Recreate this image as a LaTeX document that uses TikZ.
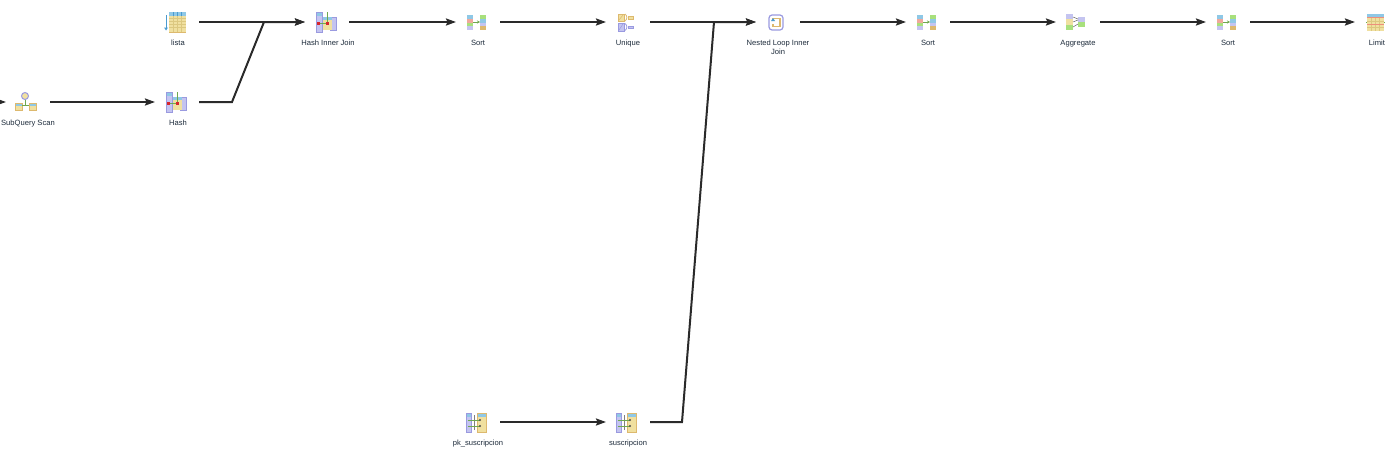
\documentclass[tikz,border=0pt]{standalone}
\usepackage{fontspec}
\setmainfont{Liberation Sans}
\usetikzlibrary{arrows.meta}
\definecolor{linkdark}{HTML}{2A2A2A}
\definecolor{labelink}{HTML}{1C2A3A}
\definecolor{headblue}{HTML}{8FC8E6}
\definecolor{bodytan}{HTML}{F0E0A0}
\definecolor{gridtan}{HTML}{DCC880}
\definecolor{edgetan}{HTML}{DDB96E}
\definecolor{colpurple}{HTML}{C4C4F0}
\definecolor{edgepurple}{HTML}{9A9AE0}
\definecolor{markgreen}{HTML}{6FA84F}
\definecolor{markred}{HTML}{D8262C}
\definecolor{limitred}{HTML}{EE8F7C}
\definecolor{arrowblue}{HTML}{4A9BD0}
\definecolor{cellgreen}{HTML}{A8E07C}
\definecolor{cellred}{HTML}{EFA89C}
\tikzset{
	iconbox/.style={minimum width=44pt,minimum height=20pt,inner sep=0pt,outer sep=0pt},
	oplabel/.style={font=\fontsize{7.6}{9}\selectfont,text=labelink,align=center,inner sep=0pt,anchor=base},
	link/.style={draw=linkdark,line width=2pt,-{Stealth[length=10pt,width=7pt,inset=1.5pt]}},
	hairline/.style={line width=.5pt},
	scanicon/.pic={
		\fill[bodytan] (-8,-10) rectangle (9,11);
		\foreach \g in {-4,-1,2,5}{\draw[gridtan,hairline] (-8,\g)--(9,\g);}
		\foreach \g in {-4,0,4}{\draw[gridtan,hairline] (\g,-10)--(\g,11);}
		\fill[headblue] (-8,-10) rectangle (9,-6);
		\foreach \g in {-4,0,4}{\draw[arrowblue,hairline] (\g,-10)--(\g,-6);}
		\draw[edgetan,line width=1pt] (-8,10.5)--(9,10.5);
		\draw[arrowblue,line width=1pt] (-11,-7)--(-11,7);
		\fill[arrowblue] (-13,5.5)--(-9,5.5)--(-11,8.5)--cycle;
	},
	hashicon/.pic={
		\fill[colpurple] (-11,-10) rectangle (-5,10);
		\fill[headblue] (-11,-10) rectangle (-5,-6);
		\draw[edgepurple,hairline] (-11,-10) rectangle (-5,10);
		\fill[colpurple] (3,-5) rectangle (9,8);
		\draw[edgepurple,hairline] (3,-5) rectangle (9,8);
		\fill[bodytan] (-4,-3) rectangle (5,8);
		\fill[headblue] (-4,-5) rectangle (5,-2);
		\draw[markgreen,line width=1pt] (0,-10)--(0,1);
		\draw[markgreen,line width=1pt] (-8,1)--(0,1);
		\fill[markred] (-10,0) rectangle (-7,2.5);
		\fill[markred] (-1.5,0) rectangle (1.5,2.5);
	},
	sorticon/.pic={
		\fill[headblue] (-11,-7) rectangle (-5,-3);
		\fill[cellred] (-11,-3) rectangle (-5,1);
		\fill[cellgreen] (-11,1) rectangle (-5,4);
		\fill[colpurple] (-11,4) rectangle (-5,8);
		\fill[cellgreen] (2,-7) rectangle (8,-3);
		\fill[headblue] (2,-3) rectangle (8,1);
		\fill[colpurple] (2,1) rectangle (8,4);
		\fill[edgetan] (2,4) rectangle (8,8);
		\draw[markgreen,line width=1pt,-{Stealth[length=3pt,width=3pt]}] (-5,0)--(2,0);
	},
	uniqueicon/.pic={
		\fill[bodytan] (-10,-8) rectangle (-4,-1);
		\draw[edgetan,hairline] (-10,-8) rectangle (-4,-1);
		\fill[colpurple] (-10,1) rectangle (-4,9);
		\draw[edgepurple,hairline] (-10,1) rectangle (-4,9);
		\draw[edgetan,hairline] (-9,-2)--(-5,-7);
		\draw[edgepurple,hairline] (-9,8)--(-5,2);
		\draw[edgetan,line width=.8pt] (-3,-8) .. controls (-.5,-6) and (-.5,-3) .. (-3,-1);
		\draw[edgepurple,line width=.8pt] (-3,1.5) .. controls (-.5,3.5) and (-.5,6.5) .. (-3,8.5);
		\fill[bodytan,draw=edgetan,hairline] (0,-5.5) rectangle (5,-3);
		\fill[colpurple,draw=edgepurple,hairline] (0,4) rectangle (5,6.5);
	},
	loopicon/.pic={
		\draw[edgepurple,line width=1.2pt,rounded corners=3pt,fill=white] (-9,-7) rectangle (5,8);
		\draw[edgetan,line width=1.2pt] (-5,-1)--(-5,-3.5)--(2,-3.5)--(2,4.5)--(-5,4.5)--(-5,2);
		\fill[arrowblue] (-7,-1)--(-3,-1)--(-5,-4)--cycle;
	},
	aggicon/.pic={
		\fill[colpurple] (-12,-8) rectangle (-5,-3);
		\fill[bodytan] (-12,-3) rectangle (-5,3);
		\fill[cellgreen] (-12,3) rectangle (-5,8);
		\fill[colpurple] (0,-5) rectangle (7,0);
		\fill[cellgreen] (0,0) rectangle (7,5);
		\draw[black!60,hairline] (-5,-5)--(0,-3) (-5,0)--(0,-2) (-5,5)--(0,2);
	},
	limiticon/.pic={
		\fill[bodytan] (-10,-8) rectangle (7,9);
		\foreach \g in {-1,2,5}{\draw[gridtan,hairline] (-10,\g)--(7,\g);}
		\foreach \g in {-6,-2,2}{\draw[gridtan,hairline] (\g,-8)--(\g,9);}
		\fill[headblue] (-10,-8) rectangle (7,-4);
		\draw[limitred,line width=1pt] (-10,-4.5)--(7,-4.5) (-10,2.5)--(7,2.5);
		\draw[markgreen,line width=1pt] (-11,0)--(-10,0) (7,0)--(8,0);
	},
	subqueryicon/.pic={
		\draw[markgreen,line width=1pt] (0,-6)--(0,3);
		\foreach \x in {-10,4}{
			\fill[bodytan] (\x,1) rectangle ++(7,7);
			\fill[headblue] (\x,1) rectangle ++(7,2.5);
			\draw[edgetan,hairline] (\x,1) rectangle ++(7,7);
		}
		\draw[markgreen,line width=1pt] (-3,3)--(4,3);
		\draw[edgepurple,line width=1pt,fill=bodytan] (0,-6) circle (3.5);
	},
	indexicon/.pic={
		\fill[colpurple] (-12,-9) rectangle (-7,10);
		\fill[headblue] (-12,-9) rectangle (-7,-5);
		\draw[edgepurple,hairline] (-12,-9) rectangle (-7,10);
		\fill[bodytan] (-1,-9) rectangle (8,10);
		\fill[headblue] (-1,-9) rectangle (8,-5);
		\draw[edgetan,hairline] (-1,-9) rectangle (8,10);
		\draw[black!50,hairline] (-4,-7)--(-4,8);
		\draw[markgreen,line width=1pt] (-10,-2)--(2,-2) (-10,4)--(2,4);
		\fill[black!70] (2,-2) circle (1.2) (2,4) circle (1.2);
	},
}
\begin{document}
\begin{tikzpicture}[x=1pt,y=-1pt]
	\useasboundingbox (0,0) rectangle (1397,461);
	\node[iconbox] (lista) at (177,22) {};
	\node[iconbox] (hashjoin) at (327,22) {};
	\node[iconbox] (sorta) at (478,22) {};
	\node[iconbox] (unique) at (628,22) {};
	\node[iconbox] (nested) at (778,22) {};
	\node[iconbox] (sortb) at (928,22) {};
	\node[iconbox] (aggregate) at (1078,22) {};
	\node[iconbox] (sortc) at (1228,22) {};
	\node[iconbox] (limit) at (1377,22) {};
	\node[iconbox] (subquery) at (28,102) {};
	\node[iconbox] (hash) at (177,102) {};
	\node[iconbox] (pksus) at (478,422) {};
	\node[iconbox] (sus) at (628,422) {};
	\coordinate (offleft) at (-20,102);
	\coordinate (hashbend) at (232,102);
	\coordinate (hashmeet) at (264,22);
	\coordinate (susbend) at (682,422);
	\coordinate (susmeet) at (714,22);
	\pic at (lista) {scanicon};
	\pic at (hashjoin) {hashicon};
	\pic at (sorta) {sorticon};
	\pic at (unique) {uniqueicon};
	\pic at (nested) {loopicon};
	\pic at (sortb) {sorticon};
	\pic at (aggregate) {aggicon};
	\pic at (sortc) {sorticon};
	\pic at ([xshift=0pt]limit) {limiticon};
	\pic at ([xshift=-3pt]subquery) {subqueryicon};
	\pic at (hash) {hashicon};
	\pic at (pksus) {indexicon};
	\pic at (sus) {indexicon};
	\node[oplabel] (listatext) at (178,45.5) {lista};
	\node[oplabel] (hashjointext) at (328,45.5) {Hash Inner Join};
	\node[oplabel] (sortatext) at (478,45.5) {Sort};
	\node[oplabel] (uniquetext) at (628,45.5) {Unique};
	\node[oplabel] (nestedtexta) at (778,45.5) {Nested Loop Inner};
	\node[oplabel] (nestedtextb) at (778,54.5) {Join};
	\node[oplabel] (sortbtext) at (928,45.5) {Sort};
	\node[oplabel] (aggregatetext) at (1078,45.5) {Aggregate};
	\node[oplabel] (sortctext) at (1228,45.5) {Sort};
	\node[oplabel] (limittext) at (1377,45.5) {Limit};
	\node[oplabel] (subquerytext) at (28,125.5) {SubQuery Scan};
	\node[oplabel] (hashtext) at (178,125.5) {Hash};
	\node[oplabel] (pksustext) at (478,445.5) {pk\_suscripcion};
	\node[oplabel] (sustext) at (628,445.5) {suscripcion};
	\draw[link] (offleft)--(subquery);
	\draw[link] (subquery)--(hash);
	\draw[link] (lista)--(hashjoin);
	\draw[link] (hash)--(hashbend)--(hashmeet)--(hashjoin);
	\draw[link] (hashjoin)--(sorta);
	\draw[link] (sorta)--(unique);
	\draw[link] (unique)--(nested);
	\draw[link] (pksus)--(sus);
	\draw[link] (sus)--(susbend)--(susmeet)--(nested);
	\draw[link] (nested)--(sortb);
	\draw[link] (sortb)--(aggregate);
	\draw[link] (aggregate)--(sortc);
	\draw[link] (sortc)--(limit);
\end{tikzpicture}
\end{document}
